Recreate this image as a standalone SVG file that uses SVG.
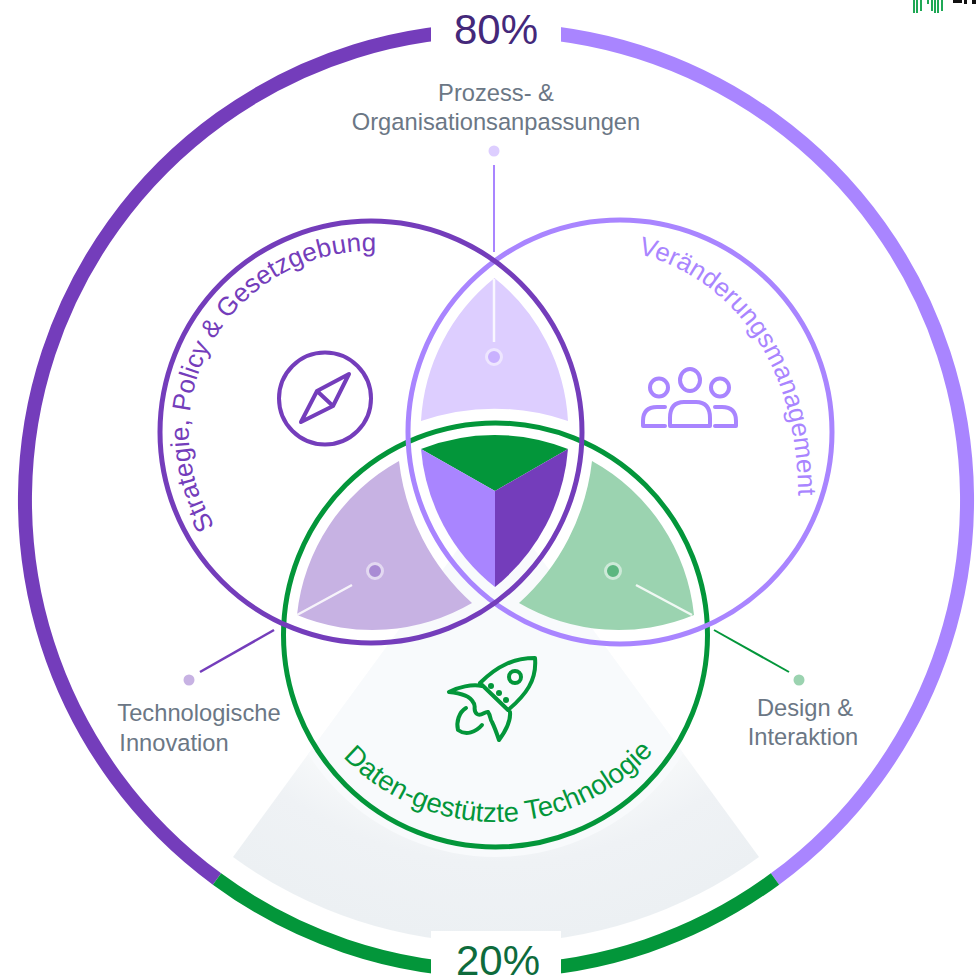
<svg xmlns="http://www.w3.org/2000/svg" width="976" height="980" viewBox="0 0 976 980">
<style>
.ring{fill:none;stroke-width:14}
.c{fill:none;stroke-width:5}
.t{font-family:"Liberation Sans",Arial,sans-serif}
.lab{font-size:23.700px;fill:#6b7785;text-anchor:middle}
.pct{font-size:42px;text-anchor:middle}
.arc{font-size:26px}
.ic{fill:none;stroke-width:4;stroke-linecap:round;stroke-linejoin:round}
.wl{stroke:#fff;stroke-width:2.500;opacity:.85}
</style>
<defs>
<radialGradient id="wg" gradientUnits="userSpaceOnUse" cx="496" cy="497" r="446">
<stop offset="0.3" stop-color="#fbfcfd"/><stop offset="0.7" stop-color="#f7f9fa"/><stop offset="0.82" stop-color="#eff2f5"/><stop offset="1" stop-color="#ecf0f3"/>
</radialGradient>
<clipPath id="wc"><path d="M496 497L233 857A446 446 0 0 0 759 857Z"/></clipPath>
<path id="pL" d="M215 526A181 181 0 0 1 402 254"/>
<path id="pR" d="M638 254C700 268 795 330 798 490L800 530"/>
<path id="pB" d="M343 757A212 212 0 0 0 655 750"/>
</defs>
<rect width="976" height="980" fill="#fff"/>
<g id="wedge">
<path d="M496 497L233 857A446 446 0 0 0 759 857Z" fill="url(#wg)"/>
<circle cx="495.500" cy="635" r="222" fill="#f8fafc" clip-path="url(#wc)"/>
</g>
<g id="outer-ring">
<path class="ring" stroke="#743dbb" d="M217 879A470 470 0 0 1 497 30"/>
<path class="ring" stroke="#a985ff" d="M497 30A470 470 0 0 1 775 879"/>
<path class="ring" stroke="#03963a" d="M217 879A470 470 0 0 0 775 879"/>
</g>
<g id="lens-process"><path d="M494.500 278A197 197 0 0 1 568 421A225 225 0 0 0 421 421A197 197 0 0 1 494.500 278Z" fill="#ddceff"/></g>
<g id="lens-tech"><path d="M399 461A199 199 0 0 0 297 615A197 197 0 0 0 472 603A225 225 0 0 1 399 461Z" fill="#c7b2e3"/></g>
<g id="lens-design"><path d="M592 461A199 199 0 0 1 694 615A197 197 0 0 1 519 603A225 225 0 0 0 592 461Z" fill="#9bd3b0"/></g>
<g id="core">
<path d="M421 449A200 200 0 0 1 568 449L495 491Z" fill="#03963a"/>
<path d="M421 449L495 491V587A197 197 0 0 1 421 449Z" fill="#a985ff"/>
<path d="M568 449L495 491V587A197 197 0 0 0 568 449Z" fill="#743dbb"/>
</g>
<g id="circle-data"><circle class="c" cx="495.500" cy="635" r="212" stroke="#03963a"/></g>
<g id="circle-change"><circle class="c" cx="620" cy="432" r="212" stroke="#a985ff"/></g>
<g id="circle-strategy"><circle class="c" cx="371" cy="432" r="211" stroke="#743dbb"/></g>
<g id="connectors">
<path d="M494 165V252" stroke="#a985ff" stroke-width="2" fill="none"/>
<path d="M274 630L200 672" stroke="#743dbb" stroke-width="2.500" fill="none"/>
<path d="M714 630L789 672" stroke="#03963a" stroke-width="2" fill="none"/>
<path class="wl" d="M494 279V342"/>
<path class="wl" d="M297 615L352 585"/>
<path class="wl" d="M692 615L636 585"/>
</g>
<g id="dots">
<circle cx="494" cy="151" r="5.500" fill="#ddceff"/>
<circle cx="189" cy="680" r="5.500" fill="#c7b2e3"/>
<circle cx="799" cy="680" r="5.500" fill="#9bd3b0"/>
<circle cx="494" cy="357" r="7.500" fill="#c9b1ff" stroke="#eee6ff" stroke-width="3"/>
<circle cx="375" cy="571" r="7.500" fill="#a98bd4" stroke="#e3d9f1" stroke-width="3"/>
<circle cx="613" cy="571" r="7.500" fill="#5cb680" stroke="#cde9d8" stroke-width="3"/>
</g>
<g id="icon-compass" class="ic" stroke="#743dbb">
<circle cx="325" cy="398.500" r="46"/>
<path d="M349 374L333 406L301 422L317 391ZM317 391L333 406"/>
</g>
<g id="icon-people" class="ic" stroke="#a985ff">
<ellipse cx="690" cy="380" rx="10" ry="11"/>
<circle cx="659" cy="387.500" r="9"/>
<circle cx="720" cy="387.500" r="9"/>
<path d="M670 426V418Q670 402 684 402H696Q710 402 710 418V426Z"/>
<path d="M665 407H657Q643 407 643 421V426H665"/>
<path d="M715 407H722Q736 407 736 421V426H715"/>
</g>
<g id="icon-rocket" class="ic" stroke="#03963a">
<path d="M480 683C498 665 515 658 535 658C537 680 526 695 508 710Z"/>
<path d="M482 686C472 684 458 687 449 692C459 693 470 696 473 702C477 706 472 710 477 714C481 717 485 711 488 712C491 716 490 720 492 722C495 728 497 734 499 740C505 732 511 722 510 712"/>
<path d="M466 708C459 712 456 722 458 730C466 736 476 732 482 725"/>
<circle cx="515" cy="677" r="6"/>
<g fill="#03963a" stroke="none"><circle cx="491" cy="686" r="3"/><circle cx="499" cy="693" r="3"/><circle cx="506" cy="700" r="3"/></g>
</g>
<g id="percent-top">
<rect x="431" y="0" width="130" height="48" fill="#fff"/>
<text class="t pct" x="496" y="44" fill="#44287a">80%</text>
</g>
<g id="percent-bottom">
<rect x="431" y="931" width="130" height="49" fill="#fff"/>
<text class="t pct" x="498" y="975" fill="#0e6b3c">20%</text>
</g>
<g id="labels">
<text class="t lab" x="496" y="101">Prozess- &amp;</text>
<text class="t lab" x="496" y="130">Organisationsanpassungen</text>
<text class="t lab" x="199" y="721">Technologische</text>
<text class="t lab" x="174" y="751">Innovation</text>
<text class="t lab" x="805" y="716">Design &amp;</text>
<text class="t lab" x="803" y="745">Interaktion</text>
<text class="t arc" fill="#743dbb"><textPath href="#pL">Strategie, Policy &amp; Gesetzgebung</textPath></text>
<text class="t arc" fill="#a985ff"><textPath href="#pR">Veränderungsmanagement</textPath></text>
<text class="t arc" fill="#03963a" style="font-size:27.500px"><textPath href="#pB">Daten-gestützte Technologie</textPath></text>
</g>
<g id="logo">
<path d="M914 0V13M917 0V13M921 0V11M928 0V4M932 0V11M935 0V13M938 0V13M942 0V11" stroke="#1fa855" stroke-width="2" fill="none"/>
<path d="M953 0H962V3H953ZM964 0H967V4H964ZM972 0H976V4H972Z" fill="#111"/>
</g>
</svg>
